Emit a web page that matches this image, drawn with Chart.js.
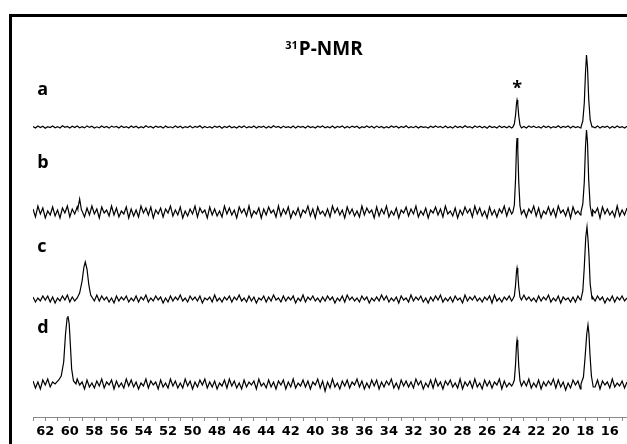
<!DOCTYPE html>
<html>
<head>
<meta charset="utf-8">
<script src="https://cdn.jsdelivr.net/npm/chart.js@4.4.1/dist/chart.umd.min.js"></script>
<style>
html,body{margin:0;padding:0;background:#fff;overflow:hidden;}
#wrap{position:relative;width:627px;height:444px;}
#frame{position:absolute;left:9px;top:14px;width:700px;height:500px;border-left:3px solid #000;border-top:3px solid #000;box-sizing:border-box;pointer-events:none;}
canvas{position:absolute;left:0;top:0;}
</style>
</head>
<body>
<div id="wrap">
<canvas id="c" width="627" height="444"></canvas>
<div id="frame"></div>
</div>
<script>
// chemical shift sampling positions (ppm)
const ppmGrid = [
63.0,62.8,62.6,62.4,62.2,62.0,61.8,61.6,61.4,61.2,61.0,60.8,60.6,60.4,60.2,60.0,59.8,59.6,59.4,59.2,
59.0,58.8,58.6,58.4,58.2,58.0,57.8,57.6,57.4,57.2,57.0,56.8,56.6,56.4,56.2,56.0,55.8,55.6,55.4,55.2,
55.0,54.8,54.6,54.4,54.2,54.0,53.8,53.6,53.4,53.2,53.0,52.8,52.6,52.4,52.2,52.0,51.8,51.6,51.4,51.2,
51.0,50.8,50.6,50.4,50.2,50.0,49.8,49.6,49.4,49.2,49.0,48.8,48.6,48.4,48.2,48.0,47.8,47.6,47.4,47.2,
47.0,46.8,46.6,46.4,46.2,46.0,45.8,45.6,45.4,45.2,45.0,44.8,44.6,44.4,44.2,44.0,43.8,43.6,43.4,43.2,
43.0,42.8,42.6,42.4,42.2,42.0,41.8,41.6,41.4,41.2,41.0,40.8,40.6,40.4,40.2,40.0,39.8,39.6,39.4,39.2,
39.0,38.8,38.6,38.4,38.2,38.0,37.8,37.6,37.4,37.2,37.0,36.8,36.6,36.4,36.2,36.0,35.8,35.6,35.4,35.2,
35.0,34.8,34.6,34.4,34.2,34.0,33.8,33.6,33.4,33.2,33.0,32.8,32.6,32.4,32.2,32.0,31.8,31.6,31.4,31.2,
31.0,30.8,30.6,30.4,30.2,30.0,29.8,29.6,29.4,29.2,29.0,28.8,28.6,28.4,28.2,28.0,27.8,27.6,27.4,27.2,
27.0,26.8,26.6,26.4,26.2,26.0,25.8,25.6,25.4,25.2,25.0,24.8,24.6,24.4,24.2,24.0,23.8,23.6,23.4,23.2,
23.0,22.8,22.6,22.4,22.2,22.0,21.8,21.6,21.4,21.2,21.0,20.8,20.6,20.4,20.2,20.0,19.8,19.6,19.4,19.2,
19.0,18.8,18.6,18.4,18.2,18.0,17.8,17.6,17.4,17.2,17.0,16.8,16.6,16.4,16.2,16.0,15.8,15.6,15.4,15.2,
15.0,14.8,14.6];

// baseline noise (intensity units)
const noiseA = [
0.5,-1,1,-0.5,0.8,-1.2,0.3,-0.6,1,-0.8,0.4,-1,1.2,-0.3,0.6,-1,0.8,-0.5,1,-0.7,
0.3,-0.9,1.1,-0.4,0.7,-1,0.2,-0.8,1,-0.6,0.5,-1.1,0.9,-0.2,0.6,-0.9,1,-0.5,0.4,-1,
1,-0.6,0.8,-1,0.3,-0.7,1.2,-0.4,0.6,-1,0.9,-0.3,0.5,-1.1,1,-0.6,0.2,-0.8,1.1,-0.5,
0.7,-1,0.4,-0.6,1,-0.9,0.5,-0.3,1.2,-1,0.6,-0.7,0.3,-1,0.9,-0.4,0.8,-1.2,0.5,-0.6,
1,-0.8,0.3,-1,0.7,-0.5,1.1,-0.9,0.4,-0.6,1,-1,0.6,-0.3,0.8,-1.1,0.5,-0.7,1.2,-0.4,
0.6,-1,0.9,-0.5,0.3,-0.8,1,-1.1,0.7,-0.4,0.5,-0.9,1.1,-0.6,0.4,-1,0.8,-0.3,1,-0.7,
0.4,-0.7,1,-0.9,0.6,-0.3,1.1,-1,0.5,-0.8,0.9,-0.4,0.7,-1.2,0.3,-0.6,1,-0.5,0.8,-1,
0.9,-0.5,0.6,-1.1,0.4,-0.8,1,-0.3,0.7,-1,0.5,-0.6,1.2,-0.9,0.3,-0.7,0.8,-1,0.6,-0.4,
0.2,-1,0.8,-0.6,1.1,-0.4,0.5,-0.9,1,-0.7,0.3,-1.1,0.9,-0.5,0.6,-0.8,1.2,-0.3,0.4,-1,
1,-0.4,0.7,-0.8,0.5,-1.2,0.9,-0.6,0.3,-1,1.1,-0.5,0.6,-0.7,0.8,-1,0.4,-0.9,1,-0.3,
0.6,-0.9,1,-0.4,0.8,-0.7,0.3,-1.1,0.9,-0.5,0.7,-1,0.4,-0.6,1.2,-0.8,0.5,-0.3,1,-1,
0.8,-0.6,0.4,-1,1,-0.5,0.7,-0.9,0.3,-0.7,1.1,-1,0.6,-0.4,0.9,-1.2,0.5,-0.8,1,-0.6,
0.4,-1,0.7];
const noiseB = [
3,-5,6,-2,4,-6,1,-3,5,-4,2,-6,4,-1,6,-5,3,-2,5,-4,
1,-5,4,-3,6,-2,3,-6,5,-1,2,-4,6,-3,4,-5,1,-2,5,-6,
3,-4,2,-5,6,-1,4,-3,5,-6,2,-2,4,-5,3,-1,6,-4,2,-3,
5,-6,1,-4,3,-2,6,-5,4,-1,2,-6,5,-3,3,-4,1,-5,6,-2,
4,-3,2,-6,5,-1,3,-4,6,-5,1,-2,4,-6,3,-3,5,-1,2,-5,
6,-4,3,-2,5,-6,1,-3,4,-5,2,-1,6,-4,3,-6,5,-2,1,-4,
3,-5,6,-1,4,-3,2,-6,5,-2,3,-4,1,-5,6,-3,4,-1,2,-6,
5,-4,3,-2,6,-5,1,-3,4,-6,2,-1,5,-4,3,-2,6,-5,1,-3,
4,-6,2,-1,5,-3,3,-5,6,-2,1,-4,4,-6,2,-3,5,-1,3,-5,
6,-2,4,-4,1,-6,5,-3,2,-5,3,-1,6,-4,4,-2,1,-6,5,-3,
2,-5,3,-1,6,-4,4,-6,1,-2,5,-3,3,-5,6,-1,2,-4,4,-6,
5,-2,1,-3,6,-5,3,-4,2,-1,4,-6,5,-2,3,-3,1,-5,6,-4,
2,-3,4];
const noiseC = [
2,-3,1,-2,3,-1,3,-3,2,-4,1,-2,3,-1,4,-3,2,-2,1,-3,
3,-1,2,-3,1,-2,4,-2,3,-1,2,-3,1,-4,3,-2,2,-1,3,-3,
1,-2,3,-3,2,-1,4,-3,1,-2,3,-1,2,-4,1,-3,3,-2,2,-1,
4,-2,1,-3,3,-1,2,-2,3,-4,1,-1,2,-3,4,-2,1,-3,2,-1,
3,-3,2,-1,4,-2,1,-3,3,-2,2,-4,1,-1,3,-3,2,-2,4,-1,
1,-3,3,-2,2,-1,3,-4,1,-2,4,-3,2,-1,3,-2,1,-3,2,-2,
3,-1,2,-4,1,-2,3,-3,4,-1,2,-2,1,-3,3,-1,2,-4,1,-2,
2,-2,4,-1,3,-3,1,-2,2,-4,3,-1,1,-3,4,-2,2,-1,3,-3,
1,-4,2,-2,3,-1,4,-3,1,-2,2,-3,3,-1,1,-4,4,-2,2,-1,
3,-2,1,-3,2,-1,3,-4,4,-2,1,-3,2,-1,3,-2,1,-4,2,-3,
4,-1,2,-2,1,-3,3,-2,2,-1,4,-3,1,-2,3,-4,2,-1,1,-3,
2,-3,3,-1,4,-2,1,-3,2,-2,3,-1,2,-4,1,-2,3,-3,2,-1,
3,-2,1];
const noiseD = [
3,-4,2,-5,4,-1,5,-3,2,-4,1,-5,3,-2,4,-4,2,-3,5,-1,
2,-5,4,-3,1,-4,3,-2,5,-4,2,-1,4,-5,3,-3,1,-4,5,-2,
4,-3,2,-5,1,-2,5,-4,3,-1,2,-5,4,-3,1,-4,5,-2,3,-4,
1,-4,5,-2,3,-5,2,-3,4,-1,5,-4,2,-3,3,-5,1,-2,4,-4,
5,-2,3,-4,1,-5,4,-3,2,-1,3,-5,5,-2,1,-4,4,-3,2,-5,
3,-1,4,-5,2,-3,5,-4,1,-2,4,-3,3,-5,2,-1,5,-4,3,-7,
2,-4,5,-3,1,-5,3,-2,4,-4,2,-1,5,-3,3,-5,1,-4,4,-2,
4,-5,2,-3,3,-1,5,-4,1,-5,4,-2,3,-3,2,-4,5,-1,3,-5,
1,-3,4,-4,5,-2,2,-5,3,-1,4,-3,1,-4,5,-5,2,-2,3,-4,
5,-3,1,-5,4,-2,3,-4,2,-1,5,-5,3,-3,1,-2,4,-4,2,-5,
3,-2,5,-4,1,-3,4,-5,2,-2,3,-1,5,-4,4,-3,2,-6,1,-4,
4,-1,3,-5,2,-4,5,-2,1,-3,4,-5,3,-1,2,-4,5,-3,1,-2,
3,-4,2];

// peak profiles [ppm, intensity]
const peaksA = [
 [[23.9,0],[23.78,3],[23.68,12],[23.6,24],[23.56,27],[23.5,23],[23.42,11],[23.32,2],[23.2,-1]],
 [[18.35,0],[18.2,6],[18.08,24],[17.98,55],[17.9,72],[17.82,60],[17.72,28],[17.6,7],[17.45,0]]
];
const peaksB = [
 [[59.35,3],[59.2,13],[59.05,2]],
 [[23.9,0],[23.78,7],[23.68,33],[23.6,67],[23.56,74],[23.5,63],[23.42,30],[23.32,6],[23.2,-2]],
 [[18.35,0],[18.2,8],[18.08,30],[17.98,66],[17.9,82],[17.82,70],[17.72,32],[17.6,6],[17.45,-4]]
];
const peaksC = [
 [[59.4,1],[59.2,6],[59.0,18],[58.85,32],[58.74,37],[58.6,30],[58.45,14],[58.3,4],[58.1,0]],
 [[23.9,0],[23.78,3],[23.68,14],[23.6,28],[23.56,31],[23.5,26],[23.42,12],[23.32,2],[23.2,-1]],
 [[18.35,0],[18.2,8],[18.08,32],[17.96,62],[17.86,72],[17.78,60],[17.7,44],[17.6,15],[17.45,0]]
];
const peaksD = [
 [[61.2,0],[60.9,4],[60.7,8],[60.5,22],[60.35,50],[60.22,66],[60.15,68],[60.05,60],[59.95,38],[59.85,15],[59.7,3],[59.5,0]],
 [[23.9,0],[23.78,4],[23.68,20],[23.6,40],[23.56,44],[23.5,38],[23.42,18],[23.32,3],[23.2,-2]],
 [[18.35,0],[18.15,7],[18.02,26],[17.88,50],[17.78,59],[17.7,50],[17.62,30],[17.5,8],[17.35,-3]]
];

const traceNames = ['a','b','c','d'];
const tickLabels = [62,60,58,56,54,52,50,48,46,44,42,40,38,36,34,32,30,28,26,24,22,20,18,16];

// layout constants (not data)
const traceOffsets = [290,205,118,33];
const labelRaise = [32,44,47,51];

function buildTrace(noise, peaks, offset){
  const pts = [];
  const n = Math.min(ppmGrid.length, noise.length);
  for(let i=0;i<n;i++){
    const x = ppmGrid[i];
    const inPeak = peaks.some(seg => x <= seg[0][0] && x >= seg[seg.length-1][0]);
    if(!inPeak) pts.push({x:x, y:offset+noise[i]});
  }
  peaks.forEach(seg => seg.forEach(p => pts.push({x:p[0], y:offset+p[1]})));
  pts.sort((a,b)=>b.x-a.x);
  return pts;
}

const series = [[noiseA,peaksA],[noiseB,peaksB],[noiseC,peaksC],[noiseD,peaksD]];
const datasets = series.map((s,i)=>({
  label: traceNames[i],
  data: buildTrace(s[0], s[1], traceOffsets[i]),
  showLine: true,
  borderColor: '#000',
  borderWidth: 1.2,
  pointRadius: 0,
  tension: 0,
  fill: false
}));

const textPlugin = {
  id:'texts',
  afterDraw(chart){
    const ctx = chart.ctx, xs = chart.scales.x, ys = chart.scales.y;
    ctx.save();
    ctx.fillStyle = '#000';
    ctx.textBaseline = 'alphabetic';
    ctx.textAlign = 'left';
    ctx.font = 'bold 18px "Open Sans"';
    traceNames.forEach((n,i)=>{
      ctx.fillText(n, xs.getPixelForValue(62.65), ys.getPixelForValue(traceOffsets[i]+labelRaise[i]));
    });
    ctx.textAlign = 'center';
    ctx.fillText('*', xs.getPixelForValue(23.56), ys.getPixelForValue(traceOffsets[0]+33));
    // title
    const main = 'P-NMR', sup = '31';
    ctx.font = 'bold 19px "Open Sans"';
    const wm = ctx.measureText(main).width;
    ctx.font = 'bold 11px "Open Sans"';
    const ws = ctx.measureText(sup).width;
    const cx = 324, base = 55;
    const left = cx - (wm+ws+1)/2;
    ctx.textAlign = 'left';
    ctx.fillText(sup, left, base-6);
    ctx.font = 'bold 19px "Open Sans"';
    ctx.fillText(main, left+ws+1, base);
    ctx.restore();
  }
};

new Chart(document.getElementById('c'), {
  type: 'scatter',
  data: { datasets },
  options: {
    responsive: false,
    animation: false,
    devicePixelRatio: 1,
    layout: { padding: { left: 33, right: 0, top: 20, bottom: 0 } },
    plugins: { legend: { display: false }, tooltip: { enabled: false }, title: { display: false } },
    scales: {
      x: {
        type: 'linear',
        reverse: true,
        min: 14.6,
        max: 63.0,
        afterFit(scale){ scale.height = 27; },
        border: { display: true, color: '#8a8a8a', width: 1 },
        grid: { display: true, drawOnChartArea: false, drawTicks: true, tickLength: 4, color: '#8a8a8a' },
        ticks: {
          stepSize: 1,
          includeBounds: false,
          autoSkip: false,
          maxRotation: 0,
          padding: 3,
          color: '#000',
          font: { family: 'DejaVu Sans', weight: 'bold', size: 13 },
          callback: v => tickLabels.includes(v) ? String(v) : ''
        }
      },
      y: { display: false, min: 0, max: 397 }
    }
  },
  plugins: [textPlugin]
});
</script>
</body>
</html>
